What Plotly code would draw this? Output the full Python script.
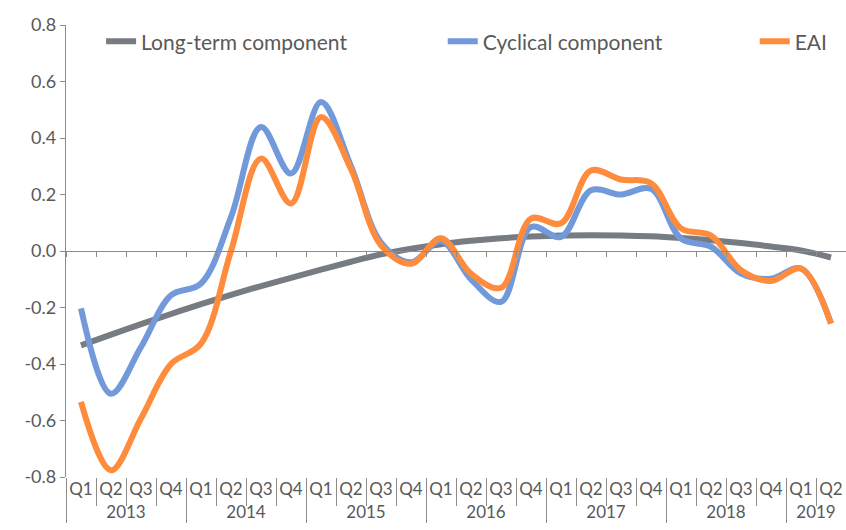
import plotly.graph_objects as go

years = ["2013"] * 4 + ["2014"] * 4 + ["2015"] * 4 + ["2016"] * 4 + ["2017"] * 4 + ["2018"] * 4 + ["2019"] * 2
quarters = ["Q1", "Q2", "Q3", "Q4"] * 6 + ["Q1", "Q2"]

long_term = [-0.334, -0.296, -0.259, -0.223, -0.188, -0.155, -0.124, -0.095, -0.066, -0.038,
             -0.012, 0.008, 0.024, 0.036, 0.045, 0.051, 0.055, 0.056, 0.055, 0.052,
             0.046, 0.038, 0.028, 0.016, 0.002, -0.023]
cyclical = [-0.203, -0.505, -0.34, -0.157, -0.115, 0.12, 0.439, 0.274, 0.527, 0.30,
            0.03, -0.04, 0.035, -0.10, -0.18, 0.085, 0.05, 0.215, 0.20, 0.22,
            0.044, 0.015, -0.08, -0.098, -0.062, -0.257]
eai = [-0.534, -0.776, -0.593, -0.40, -0.328, 0.0, 0.327, 0.168, 0.474, 0.29,
       0.02, -0.045, 0.045, -0.08, -0.13, 0.115, 0.098, 0.285, 0.253, 0.24,
       0.08, 0.055, -0.068, -0.106, -0.062, -0.257]

y_ticks = [-0.8, -0.6, -0.4, -0.2, 0.0, 0.2, 0.4, 0.6, 0.8]
y_tick_labels = ["-0.8", "-0.6", "-0.4", "-0.2", "0.0", "0.2", "0.4", "0.6", "0.8"]

names = ["Long-term component", "Cyclical component", "EAI"]
colors = ["#777B82", "#7299DA", "#FF8B3D"]
series = [long_term, cyclical, eai]
legends = ["legend", "legend2", "legend3"]

FONT = "Lato"
TXT = "#595959"
AX = "#8c8c8c"

fig = go.Figure()
for nm, col, ys, lg in zip(names, colors, series, legends):
    fig.add_trace(go.Scatter(
        x=[years, quarters], y=ys, name=nm, mode="lines",
        line=dict(color=col, width=6, shape="spline", smoothing=1.0),
        legend=lg, hoverinfo="skip"))

# invisible helper trace for the zero-line axis with boundary ticks
fig.add_trace(go.Scatter(x=[0, len(quarters) - 1], y=[0, 0], xaxis="x2", mode="lines",
                         line=dict(width=0), showlegend=False, hoverinfo="skip"))

legend_common = dict(orientation="h", yanchor="middle", xanchor="left",
                     bgcolor="rgba(0,0,0,0)", font=dict(family=FONT, size=21, color=TXT))

fig.update_layout(
    width=846, height=530,
    margin=dict(l=66, r=0, t=25, b=53),
    plot_bgcolor="white", paper_bgcolor="white",
    font=dict(family=FONT, size=17, color=TXT),
    legend=dict(x=0.045, y=0.963, **legend_common),
    legend2=dict(x=0.483, y=0.963, **legend_common),
    legend3=dict(x=0.883, y=0.963, **legend_common),
    xaxis=dict(type="multicategory", showline=False, showgrid=False, zeroline=False,
               tickangle=0, automargin=False,
               ticks="outside", tickson="boundaries", ticklen=28, tickwidth=1.3,
               tickcolor=AX, showdividers=True, dividercolor=AX,
               dividerwidth=1.3, tickfont=dict(family=FONT, size=17, color=TXT),
               range=[-0.5, len(quarters) - 0.5]),
    xaxis2=dict(overlaying="x", anchor="free", position=0.5, range=[-0.5, len(quarters) - 0.5],
                showline=True, linecolor=AX, linewidth=1.3, ticks="outside",
                tick0=0.5, dtick=1, ticklen=5, tickcolor=AX, tickwidth=1.3,
                showticklabels=False, showgrid=False, zeroline=False, automargin=False),
    yaxis=dict(range=[-0.8, 0.8], tickmode="array", tickvals=y_ticks, ticktext=y_tick_labels,
               showgrid=False, zeroline=False, automargin=False,
               showline=True, linecolor=AX, linewidth=1.3, ticks="outside",
               ticklen=5, tickcolor=AX, tickwidth=1.3,
               tickfont=dict(family=FONT, size=18, color=TXT)),
)

fig.write_html("out.html", config={"displayModeBar": False},
               post_script="document.body.style.margin='0';document.body.style.overflow='hidden';")
